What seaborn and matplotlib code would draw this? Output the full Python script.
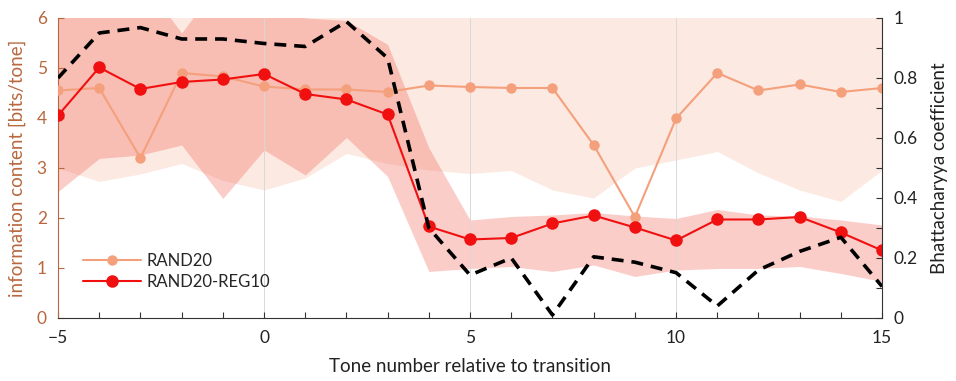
import numpy as np
import pandas as pd
import matplotlib
matplotlib.use("Agg")
import matplotlib.pyplot as plt
from matplotlib.ticker import MultipleLocator, FuncFormatter
import seaborn as sns

sns.set_style("ticks")
plt.rcParams['font.family'] = ['Lato', 'DejaVu Sans']

# ---- data ----
tone = list(range(-5, 16))
rand20 = [4.55, 4.6, 3.2, 4.9, 4.83, 4.63, 4.57, 4.57, 4.52, 4.65, 4.62,
          4.6, 4.6, 3.46, 2.02, 3.99, 4.9, 4.55, 4.67, 4.52, 4.6]
rand20_reg10 = [4.05, 5.01, 4.58, 4.72, 4.77, 4.88, 4.48, 4.37, 4.07, 1.83, 1.57,
                1.6, 1.89, 2.05, 1.81, 1.55, 1.97, 1.97, 2.02, 1.71, 1.35]
bhatt = [0.80, 0.95, 0.968, 0.93, 0.93, 0.915, 0.905, 0.988, 0.866, 0.30, 0.143,
         0.20, 0.01, 0.204, 0.186, 0.151, 0.04, 0.16, 0.222, 0.269, 0.105]
rand20_lo = [3.0, 2.73, 2.88, 3.09, 2.75, 2.56, 2.8, 3.29, 3.09, 2.96, 2.89,
             2.95, 2.56, 2.4, 3.0, 3.16, 3.33, 2.9, 2.56, 2.33, 2.96]
rand20_hi = [6.5] * 21
reg10_lo = [2.53, 3.19, 3.26, 3.46, 2.39, 3.36, 2.86, 3.61, 2.83, 0.93, 0.99,
            1.03, 0.93, 1.06, 0.83, 0.96, 0.99, 0.99, 1.03, 0.89, 0.73]
reg10_hi = [6.5, 6.5, 6.8, 5.7, 6.8, 6.3, 6.0, 5.95, 5.47, 3.4, 1.96,
            2.03, 2.06, 2.11, 2.04, 1.99, 2.17, 2.06, 2.04, 1.96, 1.86]

df = pd.DataFrame({"tone": tone, "RAND20": rand20, "RAND20-REG10": rand20_reg10,
                   "bhatt": bhatt})

c_peach_band = '#f6a585'
c_pink_band = '#ee3a2a'
c_rand = '#f5a07c'
c_reg = '#f01010'
c_left = '#b8683f'

fig = plt.figure(figsize=(9.56, 3.81), dpi=100)
ax = fig.add_axes([0.0607, 0.1654, 0.862, 0.7874])

ax.fill_between(tone, rand20_lo, rand20_hi, color=c_peach_band, alpha=0.24, lw=0, zorder=1)
ax.fill_between(tone, reg10_lo, reg10_hi, color=c_pink_band, alpha=0.25, lw=0, zorder=1.1)

sns.lineplot(data=df, x="tone", y="RAND20", ax=ax, color=c_rand, marker='o',
             markersize=7.5, markeredgewidth=0, lw=1.5, label="RAND20", zorder=3)
sns.lineplot(data=df, x="tone", y="RAND20-REG10", ax=ax, color=c_reg, marker='o',
             markersize=9, markeredgewidth=0, lw=1.5, label="RAND20-REG10", zorder=4)

ax.set_xlim(-5, 15)
ax.set_ylim(0, 6)
ax.xaxis.set_major_locator(MultipleLocator(5))
ax.xaxis.set_minor_locator(MultipleLocator(1))
ax.yaxis.set_major_locator(MultipleLocator(1))
ax.tick_params(axis='x', which='both', direction='in', length=4, width=0.8,
               color='#333333', labelsize=12.5, pad=9, labelcolor='#222222')
ax.tick_params(axis='y', which='major', direction='in', length=4, width=0.8,
               color=c_left, labelcolor=c_left, labelsize=12.5, pad=8)
ax.set_axisbelow('line')
ax.grid(axis='x', which='major', color='#d8d8d8', lw=0.7)
for s in ['top', 'right']:
    ax.spines[s].set_visible(False)
ax.spines['left'].set_color(c_left)
ax.spines['bottom'].set_color('#333333')
ax.set_xlabel("Tone number relative to transition", fontsize=13.5, color='#222222',
              labelpad=8)
ax.set_ylabel("information content [bits/tone]", fontsize=13.5, color=c_left,
              labelpad=8)

leg = ax.legend(loc='upper left', bbox_to_anchor=(0.03, 0.217), frameon=False,
                fontsize=12, handlelength=3.5, handletextpad=0.3, labelspacing=0.3,
                borderpad=0, borderaxespad=0)

ax2 = ax.twinx()
sns.lineplot(data=df, x="tone", y="bhatt", ax=ax2, color='black', lw=2.6,
             linestyle=(0, (3.3, 2.2)), legend=False, zorder=5)
ax2.set_ylim(0, 1)
ax2.set_xlim(-5, 15)
ax2.yaxis.set_major_locator(MultipleLocator(0.2))
ax2.yaxis.set_minor_locator(MultipleLocator(0.1))
ax2.yaxis.set_major_formatter(FuncFormatter(lambda v, p: f"{v:.1f}".rstrip('0').rstrip('.') if abs(v) > 1e-9 else "0"))
ax2.tick_params(axis='y', which='both', direction='in', length=4, width=0.8,
                color='#333333', labelsize=12.5, pad=8, labelcolor='#222222')
ax2.set_ylabel("Bhattacharyya coefficient", fontsize=13.5, color='#222222', labelpad=10)
for s in ['top', 'left', 'bottom']:
    ax2.spines[s].set_visible(False)
ax2.spines['right'].set_color('#333333')

fig.savefig("out.png", dpi=100)
